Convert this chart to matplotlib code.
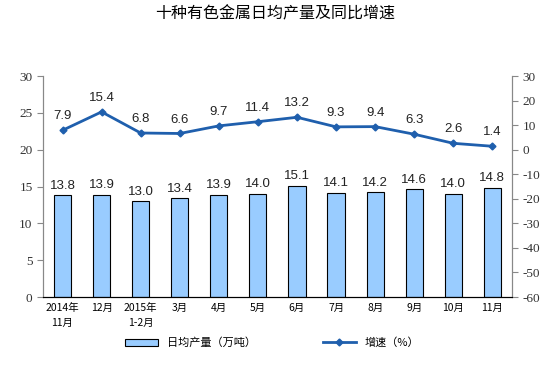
import numpy as np
import matplotlib.pyplot as plt
from matplotlib.patches import Patch
from matplotlib.lines import Line2D

plt.rcParams['font.family'] = ['Noto Sans CJK SC', 'DejaVu Sans']

months = ['2014年\n11月', '12月', '2015年\n1-2月', '3月', '4月', '5月',
          '6月', '7月', '8月', '9月', '10月', '11月']
output = [13.8, 13.9, 13.0, 13.4, 13.9, 14.0, 15.1, 14.1, 14.2, 14.6, 14.0, 14.8]
growth = [7.9, 15.4, 6.8, 6.6, 9.7, 11.4, 13.2, 9.3, 9.4, 6.3, 2.6, 1.4]
left_ticks = list(range(0, 31, 5))
right_ticks = list(range(-60, 31, 10))

bar_color = '#99ccff'
line_color = '#1f5fad'

fig = plt.figure(figsize=(5.44, 3.72), dpi=100)
ax = fig.add_axes([0.079, 0.2016, 0.862, 0.594])
ax2 = ax.twinx()

x = np.arange(len(months))
ax.bar(x, output, width=0.44, color=bar_color, edgecolor='black', linewidth=0.8, zorder=2)
for xi, v in zip(x, output):
    ax.text(xi, v + 0.5, f'{v:.1f}', ha='center', va='bottom', fontsize=9.5,
            family='Liberation Sans', color='#222222')

ax2.plot(x, growth, color=line_color, lw=2, marker='D', ms=3.5, zorder=3)
for xi, v in zip(x, growth):
    ax2.text(xi, v + 3.2, f'{v:.1f}', ha='center', va='bottom', fontsize=9.5,
             family='Liberation Sans', color='#222222')

ax.set_xlim(-0.5, len(months) - 0.5)
ax.set_ylim(0, 30)
ax.set_yticks(left_ticks)
ax.set_yticklabels([str(t) for t in left_ticks], family='Liberation Serif', fontsize=9.5)
ax2.set_ylim(-60, 30)
ax2.set_yticks(right_ticks)
ax2.set_yticklabels([str(t) for t in right_ticks], family='Liberation Serif', fontsize=9.5)

ax.set_xticks(x)
ax.set_xticklabels(months, fontsize=7.5, linespacing=1.6)
ax.tick_params(axis='x', length=0, pad=4)
ax.tick_params(axis='y', length=4, color='#888888', labelcolor='#333333')
ax2.tick_params(axis='y', length=4, color='#888888', labelcolor='#333333')

for a in (ax, ax2):
    a.spines['top'].set_visible(False)
    a.spines['left'].set_color('#888888')
    a.spines['right'].set_color('#888888')
    a.spines['bottom'].set_color('black')

fig.text(0.505, 0.962, '十种有色金属日均产量及同比增速', ha='center', va='center', fontsize=11.5)

handles = [Patch(facecolor=bar_color, edgecolor='black', linewidth=0.8),
           Line2D([0], [0], color=line_color, lw=2, marker='D', ms=3.5)]
fig.legend(handles, ['日均产量（万吨）', '增速（%）'], loc='center', ncol=2,
           bbox_to_anchor=(0.5, 0.078), frameon=False, fontsize=8,
           columnspacing=6, handlelength=3)

fig.savefig('out.png', dpi=100)
